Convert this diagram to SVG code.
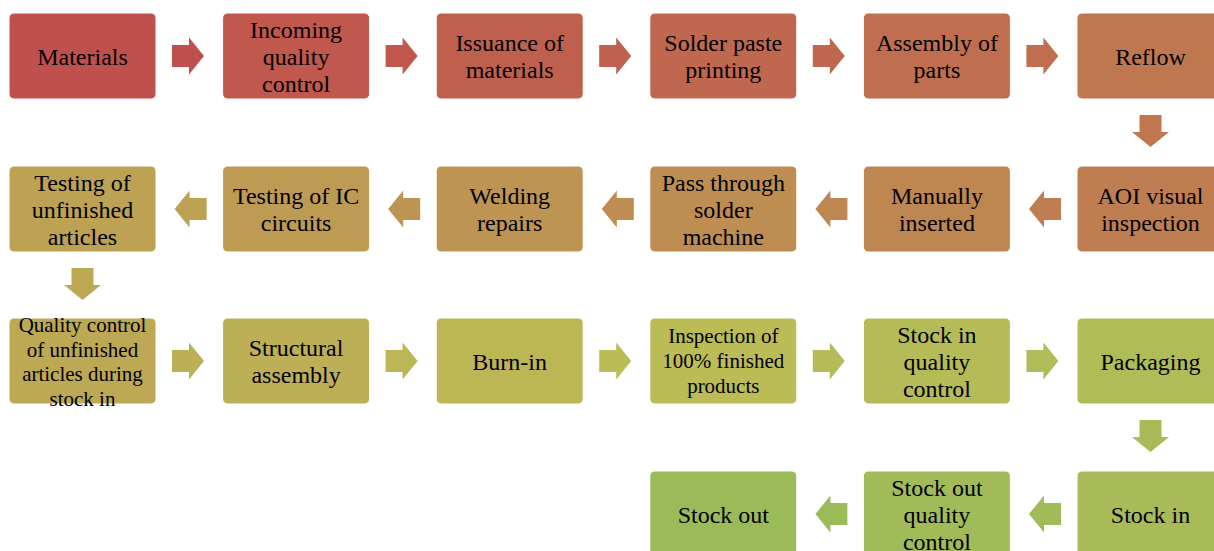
<svg xmlns="http://www.w3.org/2000/svg" width="1214" height="551" viewBox="0 0 1214 551">
<style>
.b{stroke:#ffffff;stroke-width:1}
.t{font-family:"Liberation Serif","Times New Roman",serif;font-size:24px;text-anchor:middle;fill:#000}
.s{font-size:21px}
</style>
<rect width="1214" height="551" fill="#ffffff"/>
<g id="connectors">
<polygon fill="#C0504D" points="172,45 189,45 189,37.5 204,56 189,74.5 189,67 172,67"/>
<polygon fill="#C0584E" points="385.6,45 402.6,45 402.6,37.5 417.6,56 402.6,74.5 402.6,67 385.6,67"/>
<polygon fill="#BF604E" points="599.2,45 616.2,45 616.2,37.5 631.2,56 616.2,74.5 616.2,67 599.2,67"/>
<polygon fill="#BF684F" points="812.8,45 829.8,45 829.8,37.5 844.8,56 829.8,74.5 829.8,67 812.8,67"/>
<polygon fill="#BF6F4F" points="1026.4,45 1043.4,45 1043.4,37.5 1058.4,56 1043.4,74.5 1043.4,67 1026.4,67"/>
<polygon fill="#BF7750" points="1139.5,115 1161.5,115 1161.5,132 1169,132 1150.5,147 1132,132 1139.5,132"/>
<polygon fill="#BE7E51" points="1061,198 1044,198 1044,190.5 1029,209 1044,227.5 1044,220 1061,220"/>
<polygon fill="#BE8651" points="847.4,198 830.4,198 830.4,190.5 815.4,209 830.4,227.5 830.4,220 847.4,220"/>
<polygon fill="#BE8D52" points="633.8,198 616.8,198 616.8,190.5 601.8,209 616.8,227.5 616.8,220 633.8,220"/>
<polygon fill="#BD9452" points="420.2,198 403.2,198 403.2,190.5 388.2,209 403.2,227.5 403.2,220 420.2,220"/>
<polygon fill="#BDA254" points="206.6,198 189.6,198 189.6,190.5 174.6,209 189.6,227.5 189.6,220 206.6,220"/>
<polygon fill="#BDA854" points="71.5,268 93.5,268 93.5,285 101,285 82.5,300 64,285 71.5,285"/>
<polygon fill="#BDAF55" points="172,350 189,350 189,342.5 204,361 189,379.5 189,372 172,372"/>
<polygon fill="#BCB655" points="385.6,350 402.6,350 402.6,342.5 417.6,361 402.6,379.5 402.6,372 385.6,372"/>
<polygon fill="#BCBC56" points="599.2,350 616.2,350 616.2,342.5 631.2,361 616.2,379.5 616.2,372 599.2,372"/>
<polygon fill="#B5BC57" points="812.8,350 829.8,350 829.8,342.5 844.8,361 829.8,379.5 829.8,372 812.8,372"/>
<polygon fill="#AFBC57" points="1026.4,350 1043.4,350 1043.4,342.5 1058.4,361 1043.4,379.5 1043.4,372 1026.4,372"/>
<polygon fill="#A8BB58" points="1139.5,420 1161.5,420 1161.5,437 1169,437 1150.5,452 1132,437 1139.5,437"/>
<polygon fill="#A1BB58" points="1061,503 1044,503 1044,495.5 1029,514 1044,532.5 1044,525 1061,525"/>
<polygon fill="#9BBB59" points="847.4,503 830.4,503 830.4,495.5 815.4,514 830.4,532.5 830.4,525 847.4,525"/>
</g>
<g id="n0"><rect class="b" x="9" y="13" width="147" height="86" rx="5" fill="#C0504D"/><text class="t" x="82.5" y="64.5">Materials</text></g>
<g id="n1"><rect class="b" x="222.6" y="13" width="147" height="86" rx="5" fill="#C0584E"/><text class="t"><tspan x="296.1" y="37.5">Incoming</tspan><tspan x="296.1" y="64.5">quality</tspan><tspan x="296.1" y="91.5">control</tspan></text></g>
<g id="n2"><rect class="b" x="436.2" y="13" width="147" height="86" rx="5" fill="#BF604E"/><text class="t"><tspan x="509.7" y="51">Issuance of</tspan><tspan x="509.7" y="78">materials</tspan></text></g>
<g id="n3"><rect class="b" x="649.8" y="13" width="147" height="86" rx="5" fill="#BF684F"/><text class="t"><tspan x="723.3" y="51">Solder paste</tspan><tspan x="723.3" y="78">printing</tspan></text></g>
<g id="n4"><rect class="b" x="863.4" y="13" width="147" height="86" rx="5" fill="#BF6F4F"/><text class="t"><tspan x="936.9" y="51">Assembly of</tspan><tspan x="936.9" y="78">parts</tspan></text></g>
<g id="n5"><rect class="b" x="1077" y="13" width="147" height="86" rx="5" fill="#BF7750"/><text class="t" x="1150.5" y="64.5">Reflow</text></g>
<g id="n6"><rect class="b" x="1077" y="166" width="147" height="86" rx="5" fill="#BE7E51"/><text class="t"><tspan x="1150.5" y="204">AOI visual</tspan><tspan x="1150.5" y="231">inspection</tspan></text></g>
<g id="n7"><rect class="b" x="863.4" y="166" width="147" height="86" rx="5" fill="#BE8651"/><text class="t"><tspan x="936.9" y="204">Manually</tspan><tspan x="936.9" y="231">inserted</tspan></text></g>
<g id="n8"><rect class="b" x="649.8" y="166" width="147" height="86" rx="5" fill="#BE8D52"/><text class="t"><tspan x="723.3" y="190.5">Pass through</tspan><tspan x="723.3" y="217.5">solder</tspan><tspan x="723.3" y="244.5">machine</tspan></text></g>
<g id="n9"><rect class="b" x="436.2" y="166" width="147" height="86" rx="5" fill="#BD9452"/><text class="t"><tspan x="509.7" y="204">Welding</tspan><tspan x="509.7" y="231">repairs</tspan></text></g>
<g id="n10"><rect class="b" x="222.6" y="166" width="147" height="86" rx="5" fill="#BD9B53"/><text class="t"><tspan x="296.1" y="204">Testing of IC</tspan><tspan x="296.1" y="231">circuits</tspan></text></g>
<g id="n11"><rect class="b" x="9" y="166" width="147" height="86" rx="5" fill="#BDA254"/><text class="t"><tspan x="82.5" y="190.5">Testing of</tspan><tspan x="82.5" y="217.5">unfinished</tspan><tspan x="82.5" y="244.5">articles</tspan></text></g>
<g id="n12"><rect class="b" x="9" y="318" width="147" height="86" rx="5" fill="#BDA854"/><text class="t s"><tspan x="82.5" y="332">Quality control</tspan><tspan x="82.5" y="356.5">of unfinished</tspan><tspan x="82.5" y="381">articles during</tspan><tspan x="82.5" y="405.5">stock in</tspan></text></g>
<g id="n13"><rect class="b" x="222.6" y="318" width="147" height="86" rx="5" fill="#BDAF55"/><text class="t"><tspan x="296.1" y="356">Structural</tspan><tspan x="296.1" y="383">assembly</tspan></text></g>
<g id="n14"><rect class="b" x="436.2" y="318" width="147" height="86" rx="5" fill="#BCB655"/><text class="t" x="509.7" y="369.5">Burn-in</text></g>
<g id="n15"><rect class="b" x="649.8" y="318" width="147" height="86" rx="5" fill="#BCBC56"/><text class="t s"><tspan x="723.3" y="343">Inspection of</tspan><tspan x="723.3" y="368">100% finished</tspan><tspan x="723.3" y="393">products</tspan></text></g>
<g id="n16"><rect class="b" x="863.4" y="318" width="147" height="86" rx="5" fill="#B5BC57"/><text class="t"><tspan x="936.9" y="342.5">Stock in</tspan><tspan x="936.9" y="369.5">quality</tspan><tspan x="936.9" y="396.5">control</tspan></text></g>
<g id="n17"><rect class="b" x="1077" y="318" width="147" height="86" rx="5" fill="#AFBC57"/><text class="t" x="1150.5" y="369.5">Packaging</text></g>
<g id="n18"><rect class="b" x="1077" y="471" width="147" height="86" rx="5" fill="#A8BB58"/><text class="t" x="1150.5" y="522.5">Stock in</text></g>
<g id="n19"><rect class="b" x="863.4" y="471" width="147" height="86" rx="5" fill="#A1BB58"/><text class="t"><tspan x="936.9" y="495.5">Stock out</tspan><tspan x="936.9" y="522.5">quality</tspan><tspan x="936.9" y="549.5">control</tspan></text></g>
<g id="n20"><rect class="b" x="649.8" y="471" width="147" height="86" rx="5" fill="#9BBB59"/><text class="t" x="723.3" y="522.5">Stock out</text></g>
</svg>
